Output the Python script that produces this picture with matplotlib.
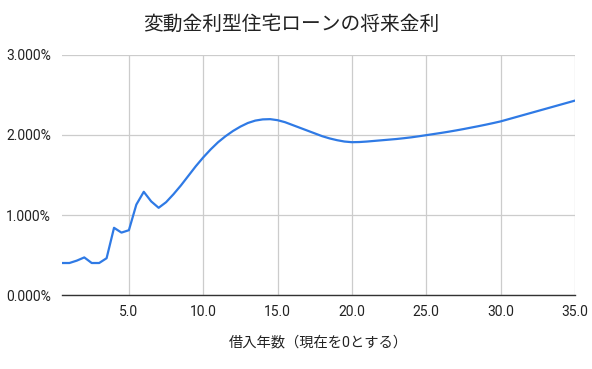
import matplotlib
matplotlib.use("Agg")
import matplotlib.pyplot as plt
from matplotlib.ticker import FuncFormatter, MultipleLocator

plt.rcParams['font.family'] = ['Roboto', 'Noto Sans CJK JP', 'DejaVu Sans']

# years since now (half-year steps) and forecast rate in %
years = [0.5, 1.0, 1.5, 2.0, 2.5, 3.0, 3.5, 4.0, 4.5, 5.0,
         5.5, 6.0, 6.5, 7.0, 7.5, 8.0, 8.5, 9.0, 9.5, 10.0,
         10.5, 11.0, 11.5, 12.0, 12.5, 13.0, 13.5, 14.0, 14.5, 15.0,
         15.5, 16.0, 16.5, 17.0, 17.5, 18.0, 18.5, 19.0, 19.5, 20.0,
         20.5, 21.0, 21.5, 22.0, 22.5, 23.0, 23.5, 24.0, 24.5, 25.0,
         25.5, 26.0, 26.5, 27.0, 27.5, 28.0, 28.5, 29.0, 29.5, 30.0,
         30.5, 31.0, 31.5, 32.0, 32.5, 33.0, 33.5, 34.0, 34.5, 35.0]
rates = [0.40, 0.40, 0.43, 0.47, 0.40, 0.40, 0.46, 0.84, 0.78, 0.81,
         1.13, 1.29, 1.17, 1.09, 1.16, 1.26, 1.37, 1.49, 1.61, 1.72,
         1.82, 1.91, 1.985, 2.05, 2.105, 2.15, 2.18, 2.195, 2.198, 2.185,
         2.16, 2.125, 2.09, 2.055, 2.02, 1.985, 1.957, 1.935, 1.918, 1.91,
         1.912, 1.918, 1.926, 1.934, 1.942, 1.95, 1.96, 1.971, 1.984, 1.998,
         2.012, 2.026, 2.041, 2.057, 2.074, 2.092, 2.11, 2.129, 2.149, 2.17,
         2.196, 2.222, 2.248, 2.274, 2.3, 2.326, 2.352, 2.378, 2.404, 2.43]

title = "変動金利型住宅ローンの将来金利"
xlabel = "借入年数（現在を0とする）"

fig = plt.figure(figsize=(5.92, 3.69), dpi=100)
ax = fig.add_axes([0.1047, 0.2005, 0.8666, 0.6505])

ax.plot(years, rates, color="#2f7ae5", linewidth=1.6, solid_joinstyle="round")

ax.set_xlim(0.5, 35)
ax.set_ylim(0, 3)
ax.xaxis.set_major_locator(MultipleLocator(5))
ax.yaxis.set_major_locator(MultipleLocator(1))
ax.xaxis.set_major_formatter(FuncFormatter(lambda v, p: f"{v:.1f}"))
ax.yaxis.set_major_formatter(FuncFormatter(lambda v, p: f"{v:.3f}%"))

ax.grid(True, color="#cccccc", linewidth=0.9)
ax.set_axisbelow(True)
for s in ["top", "right", "left"]:
    ax.spines[s].set_visible(False)
ax.spines["bottom"].set_color("#333333")
ax.spines["bottom"].set_linewidth(1.0)
ax.tick_params(length=0, labelsize=10, colors="#222222", pad=8)
ax.tick_params(axis="x", pad=7)

fig.text(0.492, 0.933, title, ha="center", va="center", fontsize=14.2, color="#222222")
ax.set_xlabel(xlabel, fontsize=10.3, color="#222222", labelpad=12)

fig.savefig("out.png", dpi=100)
